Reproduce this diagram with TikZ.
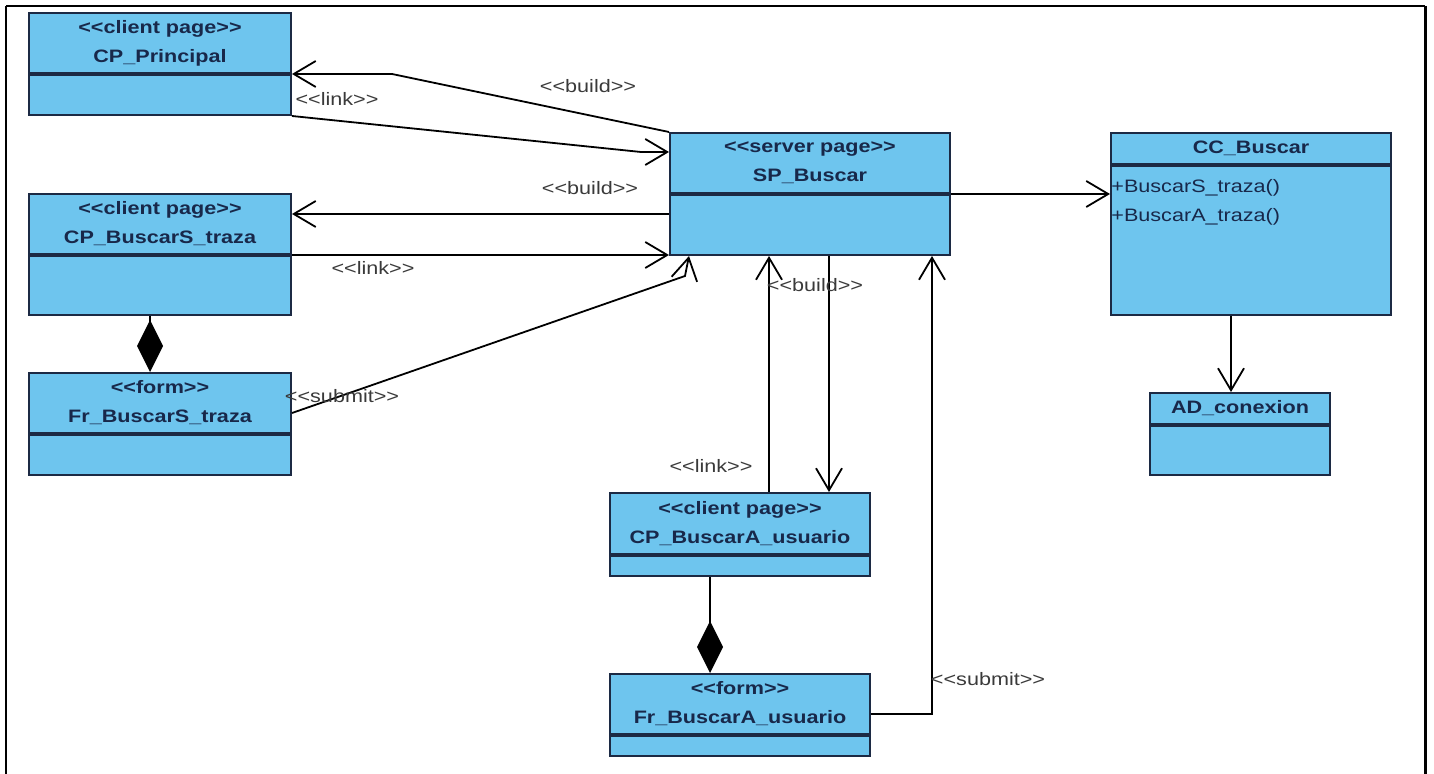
\documentclass[tikz,border=0pt]{standalone}
\usepackage{fontspec}
\newfontfamily\umlfont{Liberation Sans}[FakeStretch=1.2]
\usepackage{xcolor}
\usetikzlibrary{arrows.meta,calc}

\definecolor{clsfill}{HTML}{6EC5EE}
\definecolor{clsline}{HTML}{1C2A44}
\definecolor{clstext}{HTML}{18284A}
\definecolor{lbltext}{HTML}{3A3A3A}

\begin{document}
\begin{tikzpicture}[x=0.5pt,y=-0.5pt,
	hdr/.style={draw=clsline, fill=clsfill, line width=1pt, inner sep=0pt, anchor=north west, align=center, text=clstext, font=\umlfont\fontsize{9}{14.5}\selectfont\bfseries},
	bdy/.style={draw=clsline, fill=clsfill, line width=1pt, inner sep=0pt, anchor=north west},
	lbl/.style={text=lbltext, inner sep=1pt, font=\umlfont\fontsize{9}{11}\selectfont},
	dep/.style={line width=0.9pt, -{Straight Barb[length=11pt,width=13pt]}},
	comp/.style={line width=0.9pt, -{Diamond[length=26pt,width=13pt]}}]
				\useasboundingbox (0,0) rectangle (1434,774);
				
				\draw [line width=1.2pt] (6,774) -- (6,6);
				\draw [line width=0.8pt] (6,6) -- (1425,6);
				\draw [line width=1.5pt] (1425,6) -- (1425,774);
				
				% client pages on the left
				\node [hdr, minimum width=131pt, minimum height=30pt] (cpph) at (28,12) {<<client page>>\\CP\_Principal};
				\node [bdy, minimum width=131pt, minimum height=20pt] (cppb) at (cpph.south west) {};
				\node [hdr, minimum width=131pt, minimum height=30pt] (cpsh) at (28,193) {<<client page>>\\CP\_BuscarS\_traza};
				\node [bdy, minimum width=131pt, minimum height=29.5pt] (cpsb) at (cpsh.south west) {};
				\node [hdr, minimum width=131pt, minimum height=30pt] (frsh) at (28,372) {<<form>>\\Fr\_BuscarS\_traza};
				\node [bdy, minimum width=131pt, minimum height=20pt] (frsb) at (frsh.south west) {};
				
				% server page
				\node [hdr, minimum width=140pt, minimum height=30pt] (sph) at (669,132) {<<server page>>\\SP\_Buscar};
				\node [bdy, minimum width=140pt, minimum height=30pt] (spb) at (sph.south west) {};
				
				% control and data access
				\node [hdr, minimum width=140pt, minimum height=15.5pt] (cch) at (1110,132) {CC\_Buscar};
				\node [bdy, minimum width=140pt, minimum height=74.5pt] (ccb) at (cch.south west) {};
				\node [anchor=north west, align=left, inner sep=0pt, text=clstext, font=\umlfont\fontsize{9}{14.5}\selectfont] (ccops) at ([xshift=0.5pt,yshift=-7pt]ccb.north west) {+BuscarS\_traza()\\+BuscarA\_traza()};
				\node [hdr, minimum width=90pt, minimum height=15.5pt] (adh) at (1149,392) {AD\_conexion};
				\node [bdy, minimum width=90pt, minimum height=24.5pt] (adb) at (adh.south west) {};
				
				% client page below
				\node [hdr, minimum width=130pt, minimum height=30.5pt] (cpah) at (609,492) {<<client page>>\\CP\_BuscarA\_usuario};
				\node [bdy, minimum width=130pt, minimum height=10pt] (cpab) at (cpah.south west) {};
				\node [hdr, minimum width=130pt, minimum height=30pt] (frah) at (609,673) {<<form>>\\Fr\_BuscarA\_usuario};
				\node [bdy, minimum width=130pt, minimum height=10pt] (frab) at (frah.south west) {};
				
				\coordinate (spw1) at ([yshift=-10pt]sph.north west);
				\coordinate (spw2) at ([yshift=-10pt]spb.north west);
				\coordinate (spsub) at ([xshift=10pt]spb.south west);
				\coordinate (cpal) at ([xshift=80pt]cpah.north west);
				\coordinate (cpab2) at ([xshift=110pt]cpah.north west);
				\coordinate (spsub2) at ([xshift=-9.5pt]spb.south east);
				\coordinate (adtop) at ([xshift=-4.5pt]adh.north);
				
				\draw [dep] (sph.north west) -- ([xshift=50pt]cpph.south east) -- (cpph.south east);
				\draw [dep] (cppb.south east) -- ([xshift=-14pt]spw1) -- (spw1);
				\draw [dep] (spw2) -- (spw2 -| cpsh.east);
				\draw [dep] (cpsh.south east) -- (cpsh.south east -| spb.west);
				\draw [dep] ([yshift=-5pt]frsh.east) -- ([xshift=-2pt,yshift=-10pt]spsub) -- (spsub);
				\draw [comp] ([xshift=-5pt]cpsb.south) -- ([xshift=-5pt]frsh.north);
				
				\draw [dep] (cpal) -- (cpal |- spb.south);
				\draw [dep] (cpab2 |- spb.south) -- (cpab2);
				\draw [dep] ([yshift=-5pt]frah.east) -| (spsub2);
				\draw [comp] ([xshift=-15pt]cpab.south) -- ([xshift=-15pt]frah.north);
				
				\draw [dep] (sph.south east) -- (sph.south east -| ccb.west);
				\draw [dep] (adtop |- ccb.south) -- (adtop);
				
				\node [lbl] (lbuild1) at (588,86) {<<build>>};
				\node [lbl] (llink1) at (337,99) {<<link>>};
				\node [lbl] (lbuild2) at (590,188) {<<build>>};
				\node [lbl] (llink2) at (373,268) {<<link>>};
				\node [lbl] (lsubmit1) at (342,396) {<<submit>>};
				\node [lbl] (llink3) at (711,466) {<<link>>};
				\node [lbl] (lbuild3) at (815,285) {<<build>>};
				\node [lbl] (lsubmit2) at (988,679) {<<submit>>};
\end{tikzpicture}
\end{document}
